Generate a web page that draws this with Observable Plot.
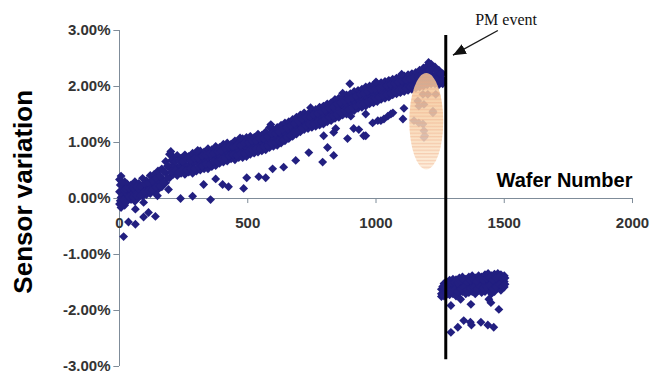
<!DOCTYPE html>
<html><head><meta charset="utf-8">
<script src="https://cdn.jsdelivr.net/npm/d3@7"></script>
<script src="https://cdn.jsdelivr.net/npm/@observablehq/plot@0.6"></script>
<style>html,body{margin:0;padding:0;background:#fff;overflow:hidden}</style>
</head><body><div id="chart"></div>
<script>
// ---- tick values ----
const xTicks = [0, 500, 1000, 1500, 2000];
const yTicks = [-3, -2, -1, 0, 1, 2, 3];

// ---- main band before PM event: [wafer, upper, middle, lower] (sensor variation, %) ----
const bandColumns = [
  [0, 0.34, 0.12, -0.10], [6, 0.40, 0.02, -0.16], [12, 0.22, 0.06, -0.06], [20, 0.30, 0.00, -0.12],
  [30, 0.26, 0.08, -0.04], [45, 0.24, 0.10, -0.02], [60, 0.30, 0.14, -0.05], [75, 0.27, 0.13, 0.02],
  [90, 0.36, 0.19, 0.04], [105, 0.32, 0.21, 0.07], [120, 0.41, 0.23, 0.09], [135, 0.43, 0.27, 0.12],
  [150, 0.49, 0.31, 0.16], [165, 0.53, 0.36, 0.21], [180, 0.66, 0.46, 0.28], [195, 0.79, 0.56, 0.37],
  [210, 0.74, 0.59, 0.43], [225, 0.77, 0.55, 0.41], [240, 0.72, 0.58, 0.45], [255, 0.78, 0.61, 0.43],
  [270, 0.75, 0.59, 0.47], [285, 0.81, 0.63, 0.45], [300, 0.78, 0.65, 0.49], [315, 0.85, 0.67, 0.51],
  [330, 0.83, 0.69, 0.53], [345, 0.89, 0.71, 0.53], [360, 0.87, 0.73, 0.57], [375, 0.93, 0.75, 0.59],
  [390, 0.91, 0.77, 0.63], [405, 0.97, 0.81, 0.65], [420, 0.99, 0.83, 0.67], [435, 0.97, 0.85, 0.71],
  [450, 1.03, 0.86, 0.69], [465, 1.01, 0.87, 0.73], [480, 1.07, 0.89, 0.73], [495, 1.09, 0.91, 0.75],
  [510, 1.11, 0.93, 0.79], [525, 1.09, 0.95, 0.81], [540, 1.15, 0.97, 0.83], [555, 1.13, 0.99, 0.85],
  [570, 1.19, 1.01, 0.87], [585, 1.27, 1.05, 0.91], [600, 1.23, 1.07, 0.93], [615, 1.27, 1.09, 0.95],
  [630, 1.31, 1.13, 0.99], [645, 1.35, 1.17, 1.03], [660, 1.37, 1.21, 1.07], [675, 1.41, 1.25, 1.11],
  [690, 1.45, 1.29, 1.15], [705, 1.49, 1.33, 1.19], [720, 1.53, 1.37, 1.23], [735, 1.51, 1.39, 1.25],
  [750, 1.57, 1.41, 1.27], [765, 1.59, 1.43, 1.29], [780, 1.63, 1.47, 1.31], [795, 1.65, 1.49, 1.33],
  [810, 1.69, 1.53, 1.37], [825, 1.71, 1.55, 1.39], [840, 1.77, 1.59, 1.43], [855, 1.79, 1.61, 1.45],
  [870, 1.81, 1.65, 1.49], [885, 1.85, 1.67, 1.51], [900, 1.87, 1.71, 1.55], [915, 1.91, 1.73, 1.57],
  [930, 1.93, 1.77, 1.61], [945, 1.95, 1.79, 1.63], [960, 1.99, 1.81, 1.65], [975, 2.01, 1.85, 1.69],
  [990, 2.03, 1.87, 1.71], [1005, 2.05, 1.89, 1.73], [1020, 2.07, 1.91, 1.77], [1035, 2.09, 1.93, 1.79],
  [1050, 2.11, 1.95, 1.81], [1065, 2.13, 1.97, 1.85], [1080, 2.15, 1.99, 1.87], [1095, 2.17, 2.01, 1.89],
  [1110, 2.19, 2.03, 1.91], [1125, 2.21, 2.05, 1.93], [1140, 2.23, 2.07, 1.95], [1155, 2.25, 2.09, 1.97],
  [1170, 2.29, 2.11, 1.99], [1185, 2.33, 2.15, 2.01], [1200, 2.37, 2.19, 2.03], [1215, 2.40, 2.21, 2.05],
  [1230, 2.35, 2.19, 2.05], [1245, 2.29, 2.17, 2.03], [1260, 2.23, 2.13, 2.05]
];
// wafers lying between the rows above: [wafer, upper-mid, lower-mid]
const bandInterleaved = [
  [3, 0.24, -0.04], [9, 0.30, -0.08], [16, 0.15, -0.02], [25, 0.17, -0.07],
  [37, 0.18, 0.03], [52, 0.19, 0.03], [67, 0.21, 0.05], [82, 0.22, 0.06],
  [97, 0.27, 0.12], [112, 0.28, 0.14], [127, 0.32, 0.15], [142, 0.36, 0.21],
  [157, 0.40, 0.22], [172, 0.48, 0.28], [187, 0.58, 0.37], [202, 0.68, 0.48],
  [217, 0.66, 0.50], [232, 0.67, 0.47], [247, 0.66, 0.52], [262, 0.70, 0.51],
  [277, 0.68, 0.54], [292, 0.72, 0.53], [307, 0.72, 0.57], [322, 0.76, 0.58],
  [337, 0.77, 0.62], [352, 0.80, 0.61], [367, 0.81, 0.66], [382, 0.84, 0.66],
  [397, 0.85, 0.70], [412, 0.90, 0.72], [427, 0.92, 0.76], [442, 0.92, 0.78],
  [457, 0.95, 0.77], [472, 0.95, 0.81], [487, 0.99, 0.80], [502, 1.00, 0.84],
  [517, 1.03, 0.86], [532, 1.03, 0.89], [547, 1.07, 0.89], [562, 1.07, 0.93],
  [577, 1.11, 0.94], [592, 1.16, 0.98], [607, 1.16, 1.00], [622, 1.19, 1.03],
  [637, 1.23, 1.05], [652, 1.27, 1.10], [667, 1.30, 1.13], [682, 1.34, 1.18],
  [697, 1.38, 1.21], [712, 1.42, 1.26], [727, 1.45, 1.30], [742, 1.46, 1.32],
  [757, 1.50, 1.33], [772, 1.52, 1.37], [787, 1.56, 1.38], [802, 1.58, 1.42],
  [817, 1.62, 1.45], [832, 1.64, 1.47], [847, 1.69, 1.50], [862, 1.71, 1.53],
  [877, 1.74, 1.57], [892, 1.77, 1.59], [907, 1.80, 1.62], [922, 1.83, 1.65],
  [937, 1.86, 1.68], [952, 1.88, 1.70], [967, 1.91, 1.73], [982, 1.94, 1.77],
  [997, 1.96, 1.79], [1012, 1.98, 1.81], [1027, 2.00, 1.84], [1042, 2.02, 1.86],
  [1057, 2.04, 1.88], [1072, 2.06, 1.91], [1087, 2.08, 1.93], [1102, 2.10, 1.95],
  [1117, 2.12, 1.97], [1132, 2.14, 1.99], [1147, 2.16, 2.01], [1162, 2.18, 2.03],
  [1177, 2.21, 2.05], [1192, 2.25, 2.08], [1207, 2.29, 2.11], [1222, 2.31, 2.13],
  [1237, 2.27, 2.12], [1252, 2.23, 2.10]
];
// wafers sticking out above the band: [wafer, %]
const bandHighs = [
  [200, 0.84], [305, 0.86], [470, 1.08], [590, 1.32], [745, 1.62], [870, 1.88],
  [1000, 2.08], [1100, 2.22], [1205, 2.43]
];

// ---- scattered wafers below the band: [wafer, %] ----
const bandOutliers = [
  [16, -0.68], [35, -0.42], [62, -0.46], [94, -0.33], [113, -0.25], [140, -0.32], [62, -0.19],
  [94, -0.07], [148, 0.05], [191, 0.16], [238, 0.00], [285, 0.04], [355, -0.02], [328, 0.25],
  [375, 0.35], [402, 0.25], [425, 0.21], [484, 0.18], [496, 0.37], [543, 0.39], [570, 0.37],
  [597, 0.53], [640, 0.56], [687, 0.68], [738, 0.82], [792, 0.65], [811, 0.91], [835, 0.77],
  [796, 1.12], [843, 1.25], [889, 1.07], [913, 1.25], [933, 1.23], [960, 1.12], [987, 1.35],
  [1007, 1.39], [1031, 1.42], [1058, 1.51], [1105, 1.42], [1109, 1.61], [960, 1.51], [902, 1.47],
  [835, 1.18], [1066, 1.53], [1046, 1.47], [1019, 1.39], [952, 1.12], [898, 2.05]
];

// ---- wafers inside the highlighted region: [wafer, %] ----
const highlightedWafers = [
  [1163, 1.74], [1187, 1.68], [1222, 1.53], [1148, 1.39], [1183, 1.33], [1187, 1.21], [1187, 1.09],
  [1202, 1.86], [1233, 1.86], [1167, 1.65], [1222, 1.56], [1167, 1.35], [1190, 1.12], [1183, 1.86]
];

// ---- after PM event: [wafer, upper, middle, lower] ----
const postPmColumns = [
  [1255, -1.62, -1.70, -1.75], [1265, -1.52, -1.64, -1.74], [1275, -1.48, -1.60, -1.72],
  [1287, -1.46, -1.58, -1.72], [1300, -1.44, -1.56, -1.70], [1312, -1.45, -1.58, -1.74],
  [1325, -1.42, -1.55, -1.68], [1337, -1.40, -1.52, -1.66], [1350, -1.44, -1.56, -1.70],
  [1362, -1.40, -1.54, -1.68], [1375, -1.38, -1.52, -1.66], [1387, -1.42, -1.55, -1.70],
  [1400, -1.38, -1.50, -1.64], [1412, -1.40, -1.52, -1.68], [1425, -1.36, -1.50, -1.66],
  [1437, -1.34, -1.48, -1.62], [1450, -1.38, -1.52, -1.70], [1462, -1.35, -1.50, -1.66],
  [1475, -1.34, -1.46, -1.60], [1487, -1.36, -1.50, -1.64], [1500, -1.38, -1.48, -1.58]
];
const postPmInterleaved = [
  [1260, -1.57, -1.72], [1270, -1.56, -1.68], [1281, -1.53, -1.66], [1293, -1.52, -1.65],
  [1306, -1.50, -1.63], [1318, -1.51, -1.66], [1331, -1.48, -1.62], [1343, -1.46, -1.59],
  [1356, -1.50, -1.63], [1368, -1.47, -1.61], [1381, -1.45, -1.59], [1393, -1.48, -1.62],
  [1406, -1.44, -1.57], [1418, -1.46, -1.60], [1431, -1.43, -1.58], [1443, -1.41, -1.55],
  [1456, -1.45, -1.61], [1468, -1.42, -1.58], [1481, -1.40, -1.53], [1493, -1.43, -1.57],
  [1503, -1.42, -1.53]
];
const postPmOutliers = [
  [1292, -1.91], [1370, -1.89], [1440, -1.80], [1448, -1.86], [1479, -1.98], [1330, -1.80],
  [1292, -2.39], [1319, -2.30], [1342, -2.18], [1368, -2.21], [1372, -2.26], [1409, -2.21],
  [1436, -2.26], [1459, -2.30]
];

// ---- annotations ----
const pmEventWafer = 1272;
const pmRule = [{x: pmEventWafer, y1: 2.91, y2: -2.88}];
const highlightRegion = [{x1: 1132, x2: 1264, y1: 0.51, y2: 2.23}];
const pmLabel = [{x: 1507, y: 3.1, text: "PM event"}];
const pmArrow = [{x1: 1475, y1: 3.0, x2: 1300, y2: 2.56}];
const xTitle = [{x: 2000, y: 0.21, text: "Wafer Number"}];
const yTitle = [{x: -375, y: 0.12, text: "Sensor variation"}];

// ---- table for the library ----
const toPts = (rows) => rows.map(([w, v]) => ({wafer: w, value: v}));
const fromCols = (cols) => cols.flatMap(([w, ...vs]) => vs.map(v => ({wafer: w, value: v})));
const points = [
  ...fromCols(bandColumns), ...fromCols(bandInterleaved), ...toPts(bandHighs),
  ...toPts(bandOutliers), ...toPts(highlightedWafers),
  ...fromCols(postPmColumns), ...fromCols(postPmInterleaved), ...toPts(postPmOutliers)
];

const navy = "#221f80";
const axisGray = "#7f8c99";
const fmtPct = d => d.toFixed(2) + "%";

const svg = Plot.plot({
  width: 669, height: 374,
  marginLeft: 119, marginRight: 37, marginTop: 30, marginBottom: 8,
  style: {fontFamily: "'Liberation Sans', Arial, sans-serif", fontSize: "15px", fontWeight: "bold", background: "#fff", overflow: "visible"},
  x: {domain: [0, 2000], axis: null},
  y: {domain: [-3, 3], axis: null},
  marks: [
    Plot.ruleY([0], {stroke: axisGray, strokeWidth: 1}),
    Plot.ruleX([0], {stroke: axisGray, strokeWidth: 1}),
    Plot.ruleY(yTicks, {y: d => d, x1: -22, x2: 0, stroke: axisGray}),
    Plot.ruleX(xTicks, {x: d => d, y1: 0, y2: -0.09, stroke: axisGray}),
    Plot.dot(points, {x: "wafer", y: "value", symbol: "diamond2", r: 4, fill: navy, stroke: "none"}),
    Plot.rect(highlightRegion, {x1: "x1", x2: "x2", y1: "y1", y2: "y2", rx: 200, ry: 200, fill: "url(#ellGrad)", fillOpacity: 0.85}),
    Plot.rect(highlightRegion, {x1: "x1", x2: "x2", y1: "y1", y2: "y2", rx: 200, ry: 200, fill: "url(#ellStripes)", fillOpacity: 0.4}),
    Plot.text(yTicks, {x: 0, y: d => d, text: fmtPct, textAnchor: "end", dx: -9, fontSize: 15, fill: "#333"}),
    Plot.text(xTicks, {x: d => d, y: 0, dy: 25, text: d => String(d), fontSize: 15, fill: "#333"}),
    Plot.ruleX(pmRule, {x: "x", y1: "y1", y2: "y2", stroke: "#000", strokeWidth: 3}),
    Plot.link(pmArrow, {x1: "x1", y1: "y1", x2: "x2", y2: "y2", stroke: "#1a1a1a", strokeWidth: 1.4, ariaDescription: "pm-arrow"}),
    Plot.text(pmLabel, {x: "x", y: "y", text: "text", lineAnchor: "bottom", fontFamily: "'Liberation Serif', 'Times New Roman', serif", fontWeight: "normal", fontSize: 16, fill: "#111"}),
    Plot.text(xTitle, {x: "x", y: "y", text: "text", textAnchor: "end", lineAnchor: "bottom", fontSize: 20, fontWeight: "bold", fill: "#000"}),
    Plot.text(yTitle, {x: "x", y: "y", text: "text", rotate: -90, fontSize: 26, fontWeight: "bold", fill: "#000"})
  ]
});

const defs = d3.select(svg).insert("defs", ":first-child");
defs.html(`
  <linearGradient id="ellGrad" x1="0" y1="0" x2="0" y2="1">
    <stop offset="0" stop-color="#f3c08f"/>
    <stop offset="0.5" stop-color="#f8d4ac"/>
    <stop offset="1" stop-color="#fdebd6"/>
  </linearGradient>
  <pattern id="ellStripes" width="6" height="3.4" patternUnits="userSpaceOnUse">
    <rect width="6" height="1.3" fill="#eda784"/>
  </pattern>
  <marker id="pmHead" viewBox="0 0 12 10" refX="12" refY="5" markerWidth="13" markerHeight="11" markerUnits="userSpaceOnUse" orient="auto">
    <path d="M0,0L12,5L0,10z" fill="#111"/>
  </marker>`);
const arrowPath = svg.querySelector('[aria-description="pm-arrow"] path');
if (arrowPath) arrowPath.setAttribute("marker-end", "url(#pmHead)");

document.getElementById("chart").appendChild(svg);
</script>
</body></html>
